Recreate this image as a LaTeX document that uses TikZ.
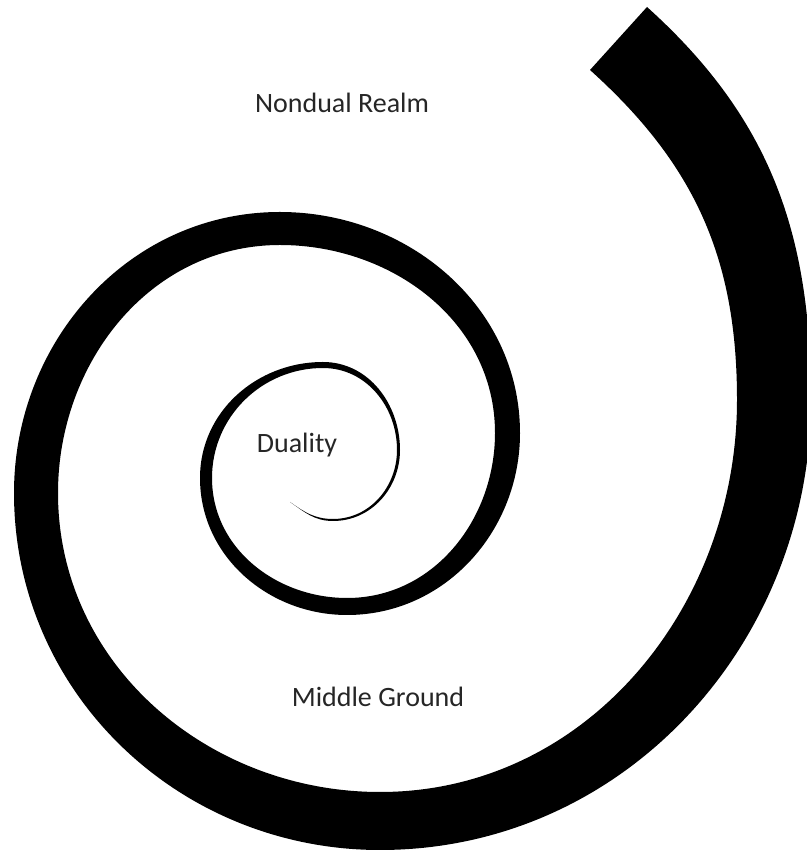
\documentclass[tikz,border=0pt]{standalone}
\usepackage{fontspec}
\setmainfont{Carlito}
\usepackage{tikz}
\usetikzlibrary{positioning}

\begin{document}
\begin{tikzpicture}[x=1pt,y=1pt,
        lbl/.style={text=black!85,font=\fontsize{28}{34}\selectfont,anchor=base}]
                \useasboundingbox (0,0) rectangle (806,854);

                \fill[black] (290,352)
                    to[out=-35,in=180] (333,333) to[out=0,in=270] (400,404)
                    to[out=90,in=0] (323,492) to[out=180,in=90] (200,376)
                    to[out=270,in=180] (347,239) to[out=0,in=270] (520,421)
                    to[out=90,in=0] (280,642) to[out=180,in=90] (14,361)
                    to[out=270,in=180] (380,4) to[out=0,in=270] (811,454)
                    to[out=90,in=-42] (647,847)
                    -- (590,784)
                    to[out=-42,in=90] (737,454) to[out=270,in=0] (380,62)
                    to[out=180,in=270] (58,361) to[out=90,in=180] (280,609)
                    to[out=0,in=90] (495,421) to[out=270,in=0] (347,256)
                    to[out=180,in=270] (212,376) to[out=90,in=180] (323,486)
                    to[out=0,in=90] (397,404) to[out=270,in=0] (333,335)
                    to[out=180,in=-35] (290,352) -- cycle;

                \node[lbl] (nondual) at (342,741) {Nondual Realm};
                \node[lbl] (duality) at (297,401) {Duality};
                \node[lbl] (middle) at (378,147) {Middle Ground};
            \end{tikzpicture}
\end{document}
